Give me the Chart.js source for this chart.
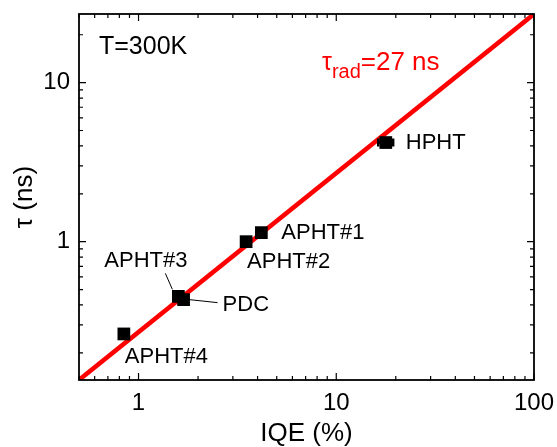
<!DOCTYPE html>
<html>
<head>
<meta charset="utf-8">
<script src="https://cdn.jsdelivr.net/npm/chart.js@4"></script>
<style>
  html, body { margin: 0; padding: 0; background: #fff; }
</style>
</head>
<body>
<canvas id="chart" width="557" height="447"></canvas>
<script>
// measured samples
const samples = ["HPHT", "APHT#1", "APHT#2", "APHT#3", "PDC", "APHT#4"];
const iqe = [17.8, 4.18, 3.5, 1.59, 1.69, 0.843];
const tau = [4.2, 1.14, 1.0, 0.453, 0.432, 0.263];
const hphtIqeErr = [16.3, 19.4];

// radiative lifetime line, tau_rad = 27 ns
const fitIqe = [0.5, 100];
const fitTau = [0.135, 27];

const xTickLabels = [1, 10, 100];
const yTickLabels = [1, 10];

const FONT = 'Arial, "Liberation Sans", sans-serif';

// label placement relative to each point (px)
const labelPos = {
  "HPHT":   { dx: 20, dy: 0 },
  "APHT#1": { dx: 20, dy: 0 },
  "APHT#2": { dx: 1, dy: 20 },
  "APHT#3": { dx: -74, dy: -35, lead: [-13, -23, -6, -7] },
  "PDC":    { dx: 39, dy: 5, lead: [6, 0, 34, 3] },
  "APHT#4": { dx: 1, dy: 23 },
};

function logTicks(min, max) {
  const out = [];
  for (let k = Math.floor(Math.log10(min)); k <= Math.ceil(Math.log10(max)); k++) {
    for (let m = 1; m <= 9; m++) {
      const v = m * Math.pow(10, k);
      if (v >= min * 0.999 && v <= max * 1.001) out.push({ v, major: m === 1 });
    }
  }
  return out;
}

const decorPlugin = {
  id: "decor",
  afterDatasetsDraw(chart) {
    const { ctx, chartArea: a, scales } = chart;
    const xs = scales.x, ys = scales.y;
    ctx.save();

    // HPHT error bar
    const hy = ys.getPixelForValue(tau[0]);
    const x1 = xs.getPixelForValue(hphtIqeErr[0]);
    const x2 = xs.getPixelForValue(hphtIqeErr[1]);
    ctx.strokeStyle = "#000";
    ctx.lineWidth = 2.5;
    ctx.beginPath();
    ctx.moveTo(x1, hy); ctx.lineTo(x2, hy);
    ctx.moveTo(x1, hy - 4); ctx.lineTo(x1, hy + 4);
    ctx.moveTo(x2, hy - 4); ctx.lineTo(x2, hy + 4);
    ctx.stroke();

    // point labels
    ctx.fillStyle = "#000";
    ctx.font = "22px " + FONT;
    ctx.textBaseline = "middle";
    ctx.textAlign = "left";
    samples.forEach((s, i) => {
      const px = xs.getPixelForValue(iqe[i]);
      const py = ys.getPixelForValue(tau[i]);
      const p = labelPos[s];
      ctx.fillText(s, px + p.dx, py + p.dy);
      if (p.lead) {
        ctx.lineWidth = 1;
        ctx.beginPath();
        ctx.moveTo(px + p.lead[0], py + p.lead[1]);
        ctx.lineTo(px + p.lead[2], py + p.lead[3]);
        ctx.stroke();
      }
    });

    // annotations
    ctx.font = "25px " + FONT;
    ctx.fillText("T=300K", 99, 47);
    ctx.fillStyle = "#ff0000";
    let tx = 322;
    const ty = 63;
    ctx.fillText("τ", tx, ty);
    tx += ctx.measureText("τ").width;
    ctx.font = "20px " + FONT;
    ctx.fillText("rad", tx, ty + 9);
    tx += ctx.measureText("rad").width;
    ctx.font = "26px " + FONT;
    ctx.fillText("=27 ns", tx, ty);

    // frame
    ctx.strokeStyle = "#000";
    ctx.lineWidth = 1.8;
    ctx.strokeRect(a.left, a.top, a.right - a.left, a.bottom - a.top);

    // inward ticks on all sides
    ctx.lineWidth = 1.2;
    ctx.beginPath();
    logTicks(xs.min, xs.max).forEach(t => {
      const x = xs.getPixelForValue(t.v);
      const len = t.major ? 7 : 4;
      ctx.moveTo(x, a.bottom); ctx.lineTo(x, a.bottom - len);
      ctx.moveTo(x, a.top); ctx.lineTo(x, a.top + len);
    });
    logTicks(ys.min, ys.max).forEach(t => {
      const y = ys.getPixelForValue(t.v);
      const len = t.major ? 7 : 4;
      ctx.moveTo(a.left, y); ctx.lineTo(a.left + len, y);
      ctx.moveTo(a.right, y); ctx.lineTo(a.right - len, y);
    });
    ctx.stroke();
    ctx.restore();
  },
};

const ctx = document.getElementById("chart");

const data = {
  datasets: [
    {
      label: "samples",
      data: iqe.map((v, i) => ({ x: v, y: tau[i] })),
      pointStyle: "rect",
      pointRadius: 9,
      backgroundColor: "#000",
      borderColor: "#000",
      borderWidth: 0,
      showLine: false,
      order: 0,
    },
    {
      label: "fit",
      data: fitIqe.map((v, i) => ({ x: v, y: fitTau[i] })),
      showLine: true,
      borderColor: "#ff0000",
      borderWidth: 4.5,
      pointRadius: 0,
      order: 1,
    },
  ],
};

const config = {
  type: "scatter",
  data,
  options: {
    responsive: false,
    animation: false,
    layout: { padding: { top: 14, right: 23, left: 0, bottom: 0 } },
    plugins: { legend: { display: false }, tooltip: { enabled: false } },
    scales: {
      x: {
        type: "logarithmic",
        min: 0.5,
        max: 100,
        grid: { display: false, drawTicks: false },
        border: { display: false },
        afterBuildTicks: s => { s.ticks = xTickLabels.map(v => ({ value: v })); },
        afterFit: s => { s.height = 67; s.paddingLeft = 0; s.paddingRight = 0; },
        ticks: {
          autoSkip: false,
          maxRotation: 0,
          padding: 9,
          color: "#000",
          font: { family: FONT, size: 24 },
          callback: v => String(v),
        },
        title: {
          display: true,
          text: "IQE (%)",
          color: "#000",
          font: { family: FONT, size: 26, lineHeight: 1 },
          padding: { top: 0, bottom: 0 },
        },
      },
      y: {
        type: "logarithmic",
        min: 0.135,
        max: 27,
        grid: { display: false, drawTicks: false },
        border: { display: false },
        afterBuildTicks: s => { s.ticks = yTickLabels.map(v => ({ value: v })); },
        afterFit: s => { s.width = 79; s.paddingTop = 0; s.paddingBottom = 0; },
        ticks: {
          autoSkip: false,
          padding: 9,
          color: "#000",
          font: { family: FONT, size: 24 },
          callback: v => String(v),
        },
        title: {
          display: true,
          text: "τ (ns)",
          color: "#000",
          font: { family: FONT, size: 26, lineHeight: 1 },
          padding: { top: 12, bottom: 0 },
        },
      },
    },
  },
  plugins: [decorPlugin],
};

new Chart(ctx, config);
</script>
</body>
</html>
